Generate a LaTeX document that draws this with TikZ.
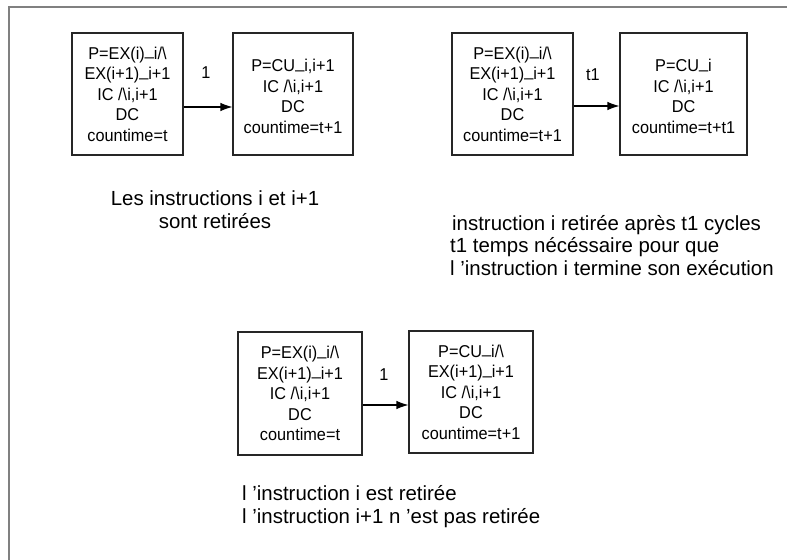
\documentclass[tikz,border=0pt]{standalone}
\usepackage{fontspec}
\setmainfont{Liberation Sans}
\newfontfamily\boxfont[FakeStretch=0.95]{Liberation Sans}
\usetikzlibrary{arrows.meta}
\newcommand\us{\raisebox{3.3bp}{\_}}
\newcommand\wedg{/\textbackslash}
\begin{document}
\begin{tikzpicture}[x=1bp,y=-1bp,
  statebox/.style={draw=black!85,line width=1.1bp,align=center,inner sep=0pt,
    font=\boxfont\fontsize{17.2}{20.6}\selectfont},
  steplabel/.style={font=\boxfont\fontsize{17.2}{20}\selectfont},
  caption/.style={font=\fontsize{20.5}{23}\selectfont,inner sep=0pt},
  transition/.style={-{Latex[length=12bp,width=8.5bp]},line width=1.1bp,black}]
\useasboundingbox (0,0) rectangle (787,560);
% page frame (top and left edges only)
\draw[black!50,line width=1.5bp] (9,560) -- (9,7) -- (787,7);

% case 1: both instructions retire
\node[statebox,minimum width=111bp,minimum height=122bp] (b1) at (127.5,94)
  {P=EX(i)\us i\wedg\\EX(i+1)\us i+1\\IC \wedg i,i+1\\DC\\countime=t};
\node[statebox,minimum width=120bp,minimum height=122bp] (b2) at (293,94)
  {\\[-3bp]P=CU\us i,i+1\\IC \wedg i,i+1\\DC\\countime=t+1};
\draw[transition] (b1.east |- 0,107) -- (b2.west |- 0,107);
\node[steplabel] (l1) at (206,73) {1};
\node[caption,align=center] (c1) at (215,209.5) {Les instructions i et i+1\\sont retirées};

% case 2: instruction i retires after t1 cycles
\node[statebox,minimum width=121bp,minimum height=122bp] (b3) at (512.5,94)
  {P=EX(i)\us i\wedg\\EX(i+1)\us i+1\\IC \wedg i,i+1\\DC\\countime=t+1};
\node[statebox,minimum width=127bp,minimum height=122bp] (b4) at (683.5,94)
  {\\[-3bp]P=CU\us i\\IC \wedg i,i+1\\DC\\countime=t+t1};
\draw[transition] (b3.east |- 0,106) -- (b4.west |- 0,106);
\node[steplabel] (l2) at (593,75) {t1};
\node[caption,align=left,anchor=west] (c2) at (450,245.5)
  {\hspace{2bp}instruction i retirée après t1 cycles\\t1 temps nécéssaire pour que\\l ’instruction i termine son exécution};

% case 3: only instruction i retires
\node[statebox,minimum width=124bp,minimum height=123bp] (b5) at (300,393.5)
  {P=EX(i)\us i\wedg\\EX(i+1)\us i+1\\IC \wedg i,i+1\\DC\\countime=t};
\node[statebox,minimum width=124bp,minimum height=122bp] (b6) at (471,392)
  {P=CU\us i\wedg\\EX(i+1)\us i+1\\IC \wedg i,i+1\\DC\\countime=t+1};
\draw[transition] (b5.east |- 0,405) -- (b6.west |- 0,405);
\node[steplabel] (l3) at (384,375) {1};
\node[caption,align=left,anchor=west] (c3) at (242,507)
  {l ’instruction i est retirée\\l ’instruction i+1 n ’est pas retirée};
\end{tikzpicture}
\end{document}
